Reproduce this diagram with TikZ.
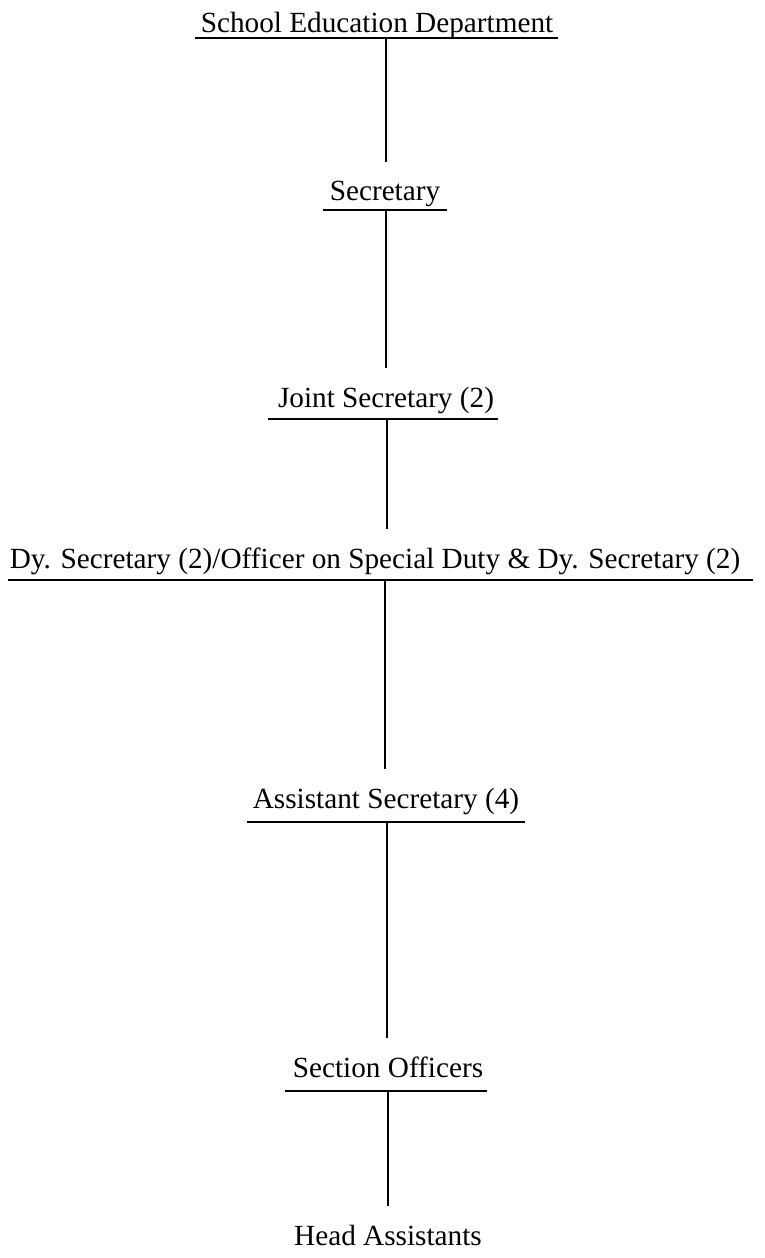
\documentclass[tikz,border=0pt]{standalone}
\usepackage{fontspec}
\setmainfont{Liberation Serif}

\begin{document}
\begin{tikzpicture}[y=-1cm, line width=1.3pt,
  post/.style={anchor=base, inner xsep=0pt, inner ysep=12.5pt, font=\fontsize{20.8}{25}\selectfont}]

\useasboundingbox (0,0) rectangle (19.1,31.45);

\coordinate (J1) at (9.65,0.96);
\coordinate (J2) at (9.65,5.25);
\coordinate (J3) at (9.67,10.475);
\coordinate (J4) at (9.63,14.5);
\coordinate (J5) at (9.67,20.55);
\coordinate (J6) at (9.7,27.275);

\draw (4.875,0.96) -- (13.95,0.96);
\draw (8.075,5.25) -- (11.175,5.25);
\draw (6.7,10.475) -- (12.45,10.475);
\draw (0.2,14.5) -- (18.825,14.5);
\draw (6.175,20.55) -- (13.125,20.55);
\draw (7.125,27.275) -- (12.175,27.275);

\node[post] (dept) at (9.425,0.8) {School Education Department};
\node[post] (sec) at (9.625,5.0) {Secretary};
\node[post] (jsec) at (9.65,10.175) {Joint Secretary (2)};
\node[post] (dysec) at (9.375,14.2) {Dy. Secretary (2)/Officer on Special Duty \& Dy. Secretary (2)};
\node[post] (asec) at (9.65,20.2) {Assistant Secretary (4)};
\node[post] (so) at (9.7,26.925) {Section Officers};
\node[post] (ha) at (9.7,31.125) {Head Assistants};
%\node at (2,0) {test};

\draw (J1) -- (sec.north -| J1);
\draw (J2) -- (jsec.north -| J2);
\draw (J3) -- (dysec.north -| J3);
\draw (J4) -- (asec.north -| J4);
\draw (J5) -- (so.north -| J5);
\draw (J6) -- (ha.north -| J6);

\end{tikzpicture}
\end{document}
